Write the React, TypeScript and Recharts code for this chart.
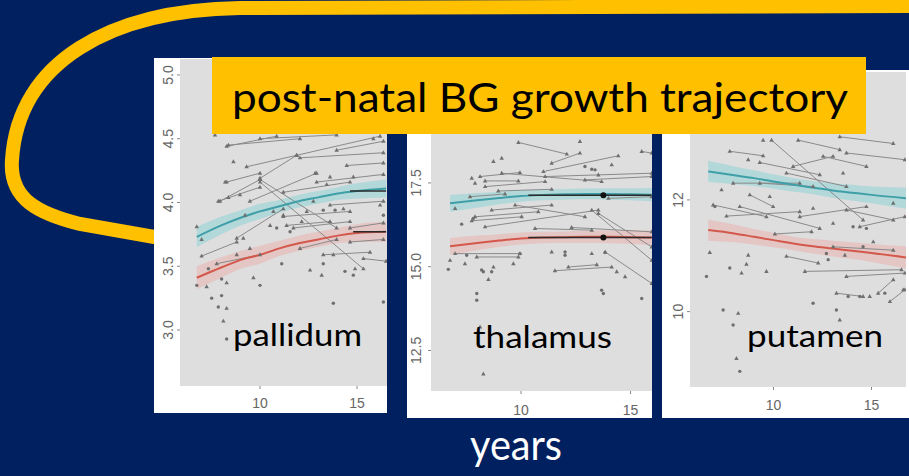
import React from 'react';
import {
  ComposedChart,
  XAxis,
  YAxis,
  CartesianGrid,
  Scatter,
  Line,
  Area,
  ReferenceLine,
  ReferenceDot,
} from 'recharts';

const NAVY = '#002060';
const YELLOW = '#FFC000';
const PANEL_BG = '#DEDEDF';
const POINT = '#6f6f6f';
const SEG = '#8a8a8a';
const TEAL_LINE = '#3f9fa8';
const TEAL_FILL = '#7fd0d2';
const RED_LINE = '#d3584b';
const RED_FILL = '#eea29a';
const TICK_TEXT = '#666666';

// ---------------- pallidum ----------------
const pallidumAges = [6.74, 8, 9, 10, 11, 12, 13, 14, 15, 16.5];
const pallidumTealMean = [3.73, 3.82, 3.88, 3.93, 3.97, 4.01, 4.04, 4.07, 4.09, 4.11];
const pallidumTealLow = [3.65, 3.75, 3.82, 3.87, 3.92, 3.96, 3.99, 4.02, 4.03, 4.04];
const pallidumTealHigh = [3.81, 3.89, 3.94, 3.99, 4.02, 4.06, 4.09, 4.12, 4.15, 4.18];
const pallidumRedMean = [3.41, 3.49, 3.55, 3.59, 3.64, 3.68, 3.71, 3.74, 3.76, 3.77];
const pallidumRedLow = [3.32, 3.41, 3.48, 3.52, 3.58, 3.62, 3.65, 3.68, 3.69, 3.69];
const pallidumRedHigh = [3.5, 3.57, 3.62, 3.66, 3.7, 3.74, 3.77, 3.8, 3.83, 3.85];
const pallidumSegments: number[][] = [
  [8.37, 4.45, 12.06, 4.5], [9.31, 4.28, 11.89, 4.37], [7.85, 4.01, 10.0, 4.12],
  [10.0, 4.19, 11.89, 4.37], [8.28, 4.16, 10.0, 4.23], [9.48, 4.01, 12.92, 4.23],
  [11.2, 4.08, 14.64, 4.16], [8.8, 3.72, 11.2, 3.95], [6.99, 3.58, 8.8, 3.69],
  [7.77, 3.52, 10.0, 3.59], [10.0, 4.5, 13.95, 4.53], [10.0, 4.18, 13.95, 3.8],
  [10.0, 4.16, 15.33, 3.48], [11.37, 3.82, 13.61, 3.85], [11.72, 3.8, 14.64, 3.85],
  [12.06, 3.64, 13.95, 3.71], [13.26, 3.59, 15.67, 3.61], [14.64, 3.8, 16.36, 3.84],
  [14.47, 4.29, 16.36, 4.31], [13.95, 4.41, 16.36, 4.48], [12.06, 4.35, 16.36, 4.39],
  [12.92, 4.16, 16.36, 4.22], [11.2, 3.89, 14.64, 3.93], [13.61, 3.98, 16.36, 4.01],
  [14.64, 3.69, 16.36, 3.71], [15.33, 3.56, 16.5, 3.54], [8.28, 4.44, 10.86, 4.52],
  [11.89, 4.37, 16.19, 4.52], [7.94, 4.01, 10.0, 4.18],
];
const pallidumTriangles: number[][] = [
  [6.74, 3.81], [6.99, 3.71], [7.25, 3.34], [8.28, 3.37], [8.28, 3.17], [8.11, 3.07],
  [9.66, 3.41], [12.58, 3.47], [13.18, 3.43], [13.78, 3.59], [14.9, 3.48], [8.97, 4.06],
  [9.23, 3.9], [9.14, 3.72], [8.63, 4.32], [8.2, 4.16], [10.69, 3.93], [10.52, 3.82],
  [12.41, 3.93], [12.75, 4.01], [14.3, 3.95], [12.84, 4.23], [13.61, 4.2], [13.44, 4.14],
  [14.81, 4.2], [15.84, 4.5], [16.19, 3.98], [12.15, 3.85], [11.2, 3.9], [7.68, 4.53],
  [8.37, 4.04], [9.48, 3.64], [8.8, 3.59],
];
const pallidumDots: number[][] = [
  [6.74, 3.35], [7.51, 3.25], [7.85, 3.18], [8.02, 3.27], [8.02, 3.4], [8.28, 2.93],
  [10.0, 3.35], [11.12, 3.52], [13.26, 3.52], [13.78, 3.21], [14.38, 3.46], [14.81, 3.43],
  [16.36, 3.22], [10.86, 3.8], [11.55, 3.77], [13.26, 3.94], [13.87, 3.94], [16.36, 3.9],
  [7.34, 3.48],
];
const pallidumMarks: number[][] = [
  [14.64, 4.09, 16.5, 4.09],
  [14.8, 3.77, 16.5, 3.77],
];
const pallidumMarkDots: number[][] = [];
const pallidumYTicks = [3.0, 3.5, 4.0, 4.5, 5.0];

// ---------------- thalamus ----------------
const thalamusAges = [6.76, 8, 9, 10, 11, 12, 13, 14, 15, 15.97];
const thalamusTealMean = [16.89, 16.98, 17.05, 17.11, 17.14, 17.16, 17.17, 17.17, 17.16, 17.15];
const thalamusTealLow = [16.64, 16.76, 16.86, 16.94, 16.98, 17.0, 17.01, 17.0, 16.98, 16.95];
const thalamusTealHigh = [17.14, 17.2, 17.24, 17.28, 17.3, 17.32, 17.33, 17.34, 17.34, 17.35];
const thalamusRedMean = [15.61, 15.71, 15.78, 15.84, 15.87, 15.88, 15.89, 15.89, 15.88, 15.87];
const thalamusRedLow = [15.36, 15.49, 15.59, 15.66, 15.7, 15.71, 15.71, 15.7, 15.68, 15.65];
const thalamusRedHigh = [15.86, 15.93, 15.97, 16.02, 16.04, 16.05, 16.07, 16.08, 16.08, 16.09];
const thalamusSegments: number[][] = [
  [9.88, 18.71, 12.09, 18.36], [11.4, 18.09, 12.69, 18.39], [11.02, 17.84, 14.44, 18.31],
  [8.13, 17.69, 9.95, 17.81], [9.12, 17.79, 13.68, 17.54], [8.36, 17.56, 9.88, 17.56],
  [8.36, 17.39, 11.1, 17.54], [7.67, 17.09, 9.27, 17.17], [8.96, 17.26, 11.4, 17.31],
  [8.66, 16.69, 11.4, 16.84], [7.9, 16.49, 10.79, 16.64], [7.75, 16.37, 10.03, 16.49],
  [8.36, 16.19, 13.53, 16.69], [10.64, 16.14, 13.23, 16.09], [12.31, 16.17, 15.97, 16.04],
  [9.73, 16.84, 12.92, 16.49], [7.98, 15.29, 9.88, 15.29], [11.55, 14.88, 14.14, 14.99],
  [12.16, 14.99, 13.46, 15.06], [13.84, 15.44, 15.97, 14.5], [13.23, 16.69, 15.97, 15.19],
  [13.53, 16.59, 15.97, 15.59], [13.99, 17.04, 15.97, 17.09], [12.92, 17.59, 15.97, 17.69],
  [15.51, 18.44, 15.97, 18.39], [6.99, 15.39, 9.95, 15.39], [11.1, 17.69, 15.97, 17.79],
];
const thalamusTriangles: number[][] = [
  [6.76, 15.19], [7.44, 15.09], [8.51, 14.62], [8.74, 14.99], [9.65, 15.09], [8.13, 13.2],
  [8.28, 11.8], [14.37, 14.85], [14.75, 14.7], [13.53, 17.74], [14.14, 18.04], [8.74, 18.14],
  [9.12, 18.24], [12.69, 18.74], [7.75, 17.64], [7.9, 17.49], [6.99, 16.74], [11.4, 15.44],
  [13.23, 15.39],
];
const thalamusDots: number[][] = [
  [6.68, 14.92], [7.29, 16.27], [7.52, 15.34], [7.98, 14.2], [7.98, 14.0], [8.2, 14.9],
  [8.28, 14.85], [8.66, 14.85], [9.95, 15.39], [12.01, 15.44], [12.01, 15.34], [13.68, 14.3],
  [13.76, 14.2], [15.51, 14.05], [12.92, 17.99], [13.23, 17.91], [13.38, 17.89], [7.82, 16.44],
  [13.84, 15.42],
];
const thalamusMarks: number[][] = [
  [10.33, 17.13, 15.97, 17.13],
  [10.33, 15.87, 15.97, 15.87],
];
const thalamusMarkDots: number[][] = [[13.76, 17.13], [13.76, 15.87]];
const thalamusYTicks = [12.5, 15.0, 17.5, 20.0];

// ---------------- putamen ----------------
const putamenAges = [6.67, 8, 9, 10, 11, 12, 13, 14, 15, 16.76];
const putamenTealMean = [12.51, 12.44, 12.39, 12.33, 12.27, 12.22, 12.17, 12.13, 12.09, 12.03];
const putamenTealLow = [12.32, 12.28, 12.25, 12.2, 12.15, 12.1, 12.04, 11.99, 11.94, 11.84];
const putamenTealHigh = [12.7, 12.6, 12.53, 12.46, 12.39, 12.34, 12.3, 12.27, 12.24, 12.22];
const putamenRedMean = [11.46, 11.4, 11.34, 11.28, 11.22, 11.17, 11.13, 11.09, 11.05, 10.97];
const putamenRedLow = [11.27, 11.24, 11.2, 11.15, 11.1, 11.04, 10.99, 10.94, 10.89, 10.77];
const putamenRedHigh = [11.65, 11.56, 11.48, 11.41, 11.34, 11.3, 11.27, 11.24, 11.21, 11.17];
const putamenSegments: number[][] = [
  [7.77, 12.87, 9.47, 12.79], [11.26, 13.07, 13.38, 12.9], [9.3, 12.67, 12.36, 12.45],
  [9.9, 13.07, 14.57, 11.64], [6.92, 11.91, 9.64, 11.7], [7.6, 11.71, 11.34, 11.79],
  [8.28, 11.88, 12.36, 11.49], [8.79, 12.09, 9.98, 11.88], [10.07, 11.39, 11.94, 11.43],
  [10.66, 10.99, 12.28, 10.87], [11.6, 10.72, 16.53, 10.75], [13.21, 10.33, 14.57, 10.27],
  [13.72, 10.63, 16.7, 10.69], [7.94, 12.3, 11.34, 12.3], [9.3, 12.3, 12.02, 12.24],
  [12.53, 12.78, 14.74, 12.6], [13.72, 12.84, 16.7, 12.72], [13.38, 13.13, 16.11, 13.01],
  [13.72, 11.82, 16.11, 11.64], [14.4, 11.52, 16.7, 11.7], [15.94, 10.18, 16.7, 10.39],
  [11.34, 11.7, 14.74, 11.88], [13.04, 11.16, 16.11, 11.1], [15.34, 10.33, 16.11, 10.57],
  [10.66, 12.48, 13.72, 12.24], [11.0, 12.6, 13.04, 12.78],
];
const putamenTriangles: number[][] = [
  [6.75, 11.06], [8.11, 9.16], [8.2, 9.97], [8.62, 10.85], [8.37, 10.69], [9.64, 10.72],
  [13.38, 9.85], [14.91, 10.27], [16.62, 10.39], [13.64, 11.01], [15.09, 11.25], [7.35, 12.18],
  [8.71, 12.72], [9.47, 13.07], [9.81, 12.06], [12.02, 11.85], [13.04, 11.58], [16.11, 11.94],
  [13.55, 12.48], [8.71, 11.01],
];
const putamenDots: number[][] = [
  [6.58, 10.63], [7.43, 10.03], [7.94, 9.76], [8.28, 8.93], [7.77, 10.78], [12.02, 10.15],
  [13.21, 10.03], [13.81, 10.27], [14.4, 10.27], [15.68, 10.33], [12.7, 11.04], [12.79, 10.93],
  [14.57, 11.16], [7.01, 11.88], [14.06, 11.52], [14.74, 11.49],
];
const putamenMarks: number[][] = [];
const putamenMarkDots: number[][] = [];
const putamenYTicks = [10, 12, 14];

const xTicks = [10, 15];

type PanelCfg = {
  left: number; top: number; width: number; height: number;
  mTop: number; mRight: number; yAxisW: number; xAxisH: number;
  xDomain: [number, number]; yDomain: [number, number];
  xTickMargin: number; yTickMargin: number; yTicks: number[]; yDigits: number;
  ages: number[]; tealMean: number[]; tealLow: number[]; tealHigh: number[];
  redMean: number[]; redLow: number[]; redHigh: number[];
  segments: number[][]; triangles: number[][]; dots: number[][];
  marks: number[][]; markDots: number[][];
};

const panels: PanelCfg[] = [
  {
    left: 154, top: 58, width: 233, height: 355, mTop: 1, mRight: 0, yAxisW: 26, xAxisH: 27,
    xDomain: [5.876, 16.546], yDomain: [2.561, 5.125], xTickMargin: 9, yTickMargin: 4,
    yTicks: pallidumYTicks, yDigits: 1,
    ages: pallidumAges, tealMean: pallidumTealMean, tealLow: pallidumTealLow, tealHigh: pallidumTealHigh,
    redMean: pallidumRedMean, redLow: pallidumRedLow, redHigh: pallidumRedHigh,
    segments: pallidumSegments, triangles: pallidumTriangles, dots: pallidumDots,
    marks: pallidumMarks, markDots: pallidumMarkDots,
  },
  {
    left: 407, top: 66, width: 245, height: 352, mTop: 2, mRight: 0, yAxisW: 24, xAxisH: 27,
    xDomain: [5.89, 15.98], yDomain: [11.29, 20.93], xTickMargin: 11, yTickMargin: 7,
    yTicks: thalamusYTicks, yDigits: 1,
    ages: thalamusAges, tealMean: thalamusTealMean, tealLow: thalamusTealLow, tealHigh: thalamusTealHigh,
    redMean: thalamusRedMean, redLow: thalamusRedLow, redHigh: thalamusRedHigh,
    segments: thalamusSegments, triangles: thalamusTriangles, dots: thalamusDots,
    marks: thalamusMarks, markDots: thalamusMarkDots,
  },
  {
    left: 662, top: 70, width: 247, height: 348, mTop: 2, mRight: 3, yAxisW: 28, xAxisH: 31,
    xDomain: [5.74, 16.76], yDomain: [8.65, 14.29], xTickMargin: 10, yTickMargin: 4,
    yTicks: putamenYTicks, yDigits: 0,
    ages: putamenAges, tealMean: putamenTealMean, tealLow: putamenTealLow, tealHigh: putamenTealHigh,
    redMean: putamenRedMean, redLow: putamenRedLow, redHigh: putamenRedHigh,
    segments: putamenSegments, triangles: putamenTriangles, dots: putamenDots,
    marks: putamenMarks, markDots: putamenMarkDots,
  },
];

const Triangle = (p: any) => {
  const { cx, cy } = p;
  if (cx == null || cy == null) return <g />;
  return <path d={`M${cx},${cy - 2.4} L${cx + 2.2},${cy + 1.5} L${cx - 2.2},${cy + 1.5} Z`} fill={POINT} />;
};
const Dot = (p: any) => {
  const { cx, cy } = p;
  if (cx == null || cy == null) return <g />;
  return <circle cx={cx} cy={cy} r={1.7} fill={POINT} />;
};

function Panel({ cfg }: { cfg: PanelCfg }) {
  const teal = cfg.ages.map((x, i) => ({ x, mean: cfg.tealMean[i], band: [cfg.tealLow[i], cfg.tealHigh[i]] }));
  const red = cfg.ages.map((x, i) => ({ x, mean: cfg.redMean[i], band: [cfg.redLow[i], cfg.redHigh[i]] }));
  const segEnds = cfg.segments.flatMap((s) => [{ x: s[0], y: s[1] }, { x: s[2], y: s[3] }]);
  const tris = cfg.triangles.map((p) => ({ x: p[0], y: p[1] }));
  const dots = cfg.dots.map((p) => ({ x: p[0], y: p[1] }));

  const YTick = (props: any) => {
    const { x, y, payload } = props;
    const label = Number(payload.value).toFixed(cfg.yDigits);
    return (
      <text
        x={x}
        y={y}
        transform={`rotate(-90, ${x}, ${y})`}
        textAnchor="middle"
        fontSize={14}
        fill={TICK_TEXT}
        fontFamily="Liberation Sans, Arial, sans-serif"
      >
        {label}
      </text>
    );
  };

  return (
    <div
      style={{
        position: 'absolute', left: cfg.left, top: cfg.top, width: cfg.width, height: cfg.height,
        background: '#ffffff', overflow: 'hidden',
      }}
    >
      <ComposedChart
        width={cfg.width}
        height={cfg.height}
        margin={{ top: cfg.mTop, right: cfg.mRight, bottom: 0, left: 0 }}
      >
        <CartesianGrid fill={PANEL_BG} stroke="none" />
        <XAxis
          dataKey="x"
          type="number"
          domain={cfg.xDomain}
          ticks={xTicks}
          allowDataOverflow
          axisLine={false}
          tickLine={{ stroke: '#888' }}
          tickSize={3}
          tickMargin={cfg.xTickMargin}
          height={cfg.xAxisH}
          tick={{ fontSize: 14, fill: TICK_TEXT, fontFamily: 'Liberation Sans, Arial, sans-serif' }}
        />
        <YAxis
          type="number"
          domain={cfg.yDomain}
          ticks={cfg.yTicks}
          allowDataOverflow
          axisLine={false}
          tickLine={{ stroke: '#888' }}
          tickSize={3}
          tickMargin={cfg.yTickMargin}
          width={cfg.yAxisW}
          tick={YTick}
        />
        {cfg.segments.map((s, i) => (
          <ReferenceLine
            key={`s${i}`}
            segment={[{ x: s[0], y: s[1] }, { x: s[2], y: s[3] }]}
            stroke={SEG}
            strokeWidth={1}
            ifOverflow="hidden"
          />
        ))}
        <Area data={teal} dataKey="band" type="monotone" stroke="none" fill={TEAL_FILL} fillOpacity={0.45} isAnimationActive={false} />
        <Area data={red} dataKey="band" type="monotone" stroke="none" fill={RED_FILL} fillOpacity={0.4} isAnimationActive={false} />
        <Line data={teal} dataKey="mean" type="monotone" stroke={TEAL_LINE} strokeWidth={2} dot={false} isAnimationActive={false} />
        <Line data={red} dataKey="mean" type="monotone" stroke={RED_LINE} strokeWidth={2} dot={false} isAnimationActive={false} />
        {cfg.marks.map((s, i) => (
          <ReferenceLine
            key={`m${i}`}
            segment={[{ x: s[0], y: s[1] }, { x: s[2], y: s[3] }]}
            stroke="#2b2b2b"
            strokeWidth={1.6}
            ifOverflow="hidden"
          />
        ))}
        {cfg.markDots.map((d, i) => (
          <ReferenceDot key={`d${i}`} x={d[0]} y={d[1]} r={3} fill="#111" stroke="none" ifOverflow="hidden" />
        ))}
        <Scatter data={segEnds} dataKey="y" shape={Triangle} isAnimationActive={false} />
        <Scatter data={tris} dataKey="y" shape={Triangle} isAnimationActive={false} />
        <Scatter data={dots} dataKey="y" shape={Dot} isAnimationActive={false} />
      </ComposedChart>
    </div>
  );
}

const LABEL_FONT = 'Lato, "Open Sans", sans-serif';

export default function App() {
  return (
    <div
      style={{
        position: 'absolute', left: 0, top: 0, width: 909, height: 476,
        background: NAVY, overflow: 'hidden',
      }}
    >
      <svg width={909} height={476} style={{ position: 'absolute', left: 0, top: 0 }}>
        <path
          d="M 930 6 L 240 8 C 110 10, 18 62, 12 160 C 9 200, 40 214, 80 224 L 160 238"
          fill="none"
          stroke={YELLOW}
          strokeWidth={14}
        />
      </svg>
      {panels.map((p, i) => (
        <Panel key={i} cfg={p} />
      ))}
      <svg width={909} height={476} style={{ position: 'absolute', left: 0, top: 0, pointerEvents: 'none' }}>
        <rect x={212} y={57} width={654} height={77} fill={YELLOW} />
        <text x={232} y={112} fontSize={41} fontFamily={LABEL_FONT} fill="#000" textLength={616} lengthAdjust="spacingAndGlyphs">
          post-natal BG growth trajectory
        </text>
        <text x={233} y={346} fontSize={31} fontFamily={LABEL_FONT} fill="#000" textLength={129} lengthAdjust="spacingAndGlyphs">
          pallidum
        </text>
        <text x={473} y={348} fontSize={31} fontFamily={LABEL_FONT} fill="#000" textLength={139} lengthAdjust="spacingAndGlyphs">
          thalamus
        </text>
        <text x={747} y={347} fontSize={31} fontFamily={LABEL_FONT} fill="#000" textLength={136} lengthAdjust="spacingAndGlyphs">
          putamen
        </text>
        <text x={470} y={460} fontSize={42} fontFamily={LABEL_FONT} fill="#ffffff" textLength={92} lengthAdjust="spacingAndGlyphs">
          years
        </text>
      </svg>
    </div>
  );
}
